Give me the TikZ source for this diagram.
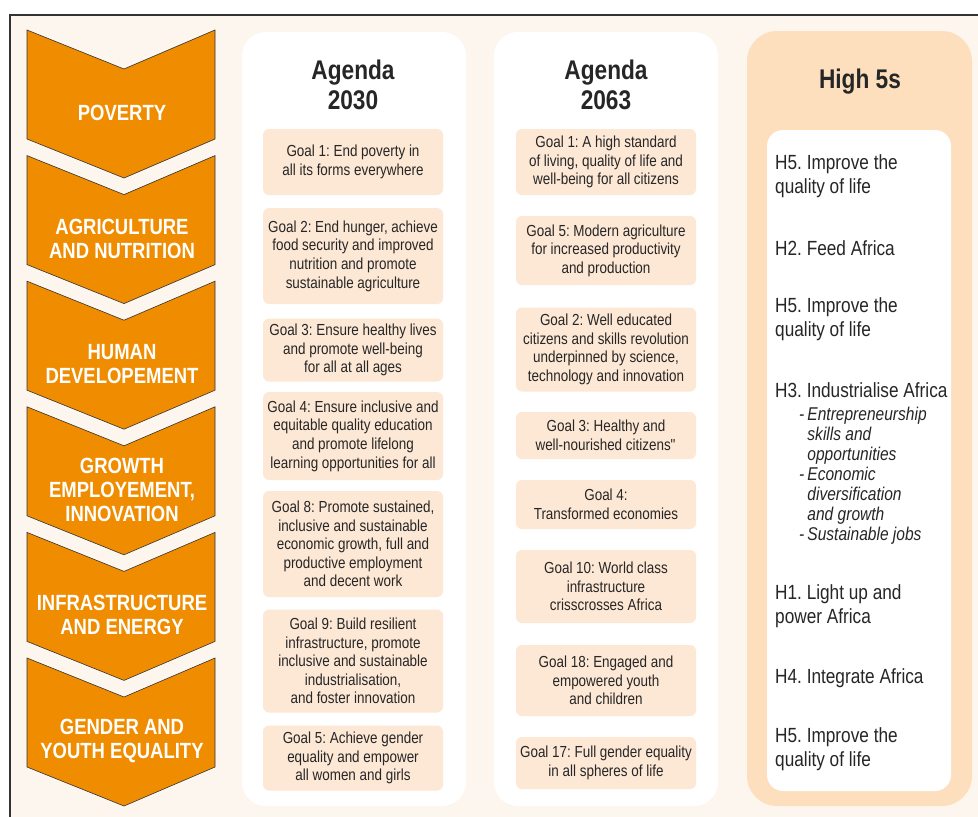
\documentclass[tikz,border=0pt]{standalone}
\usepackage{fontspec}
\setmainfont{Liberation Sans}[FakeStretch=0.84]
\frenchspacing
\usetikzlibrary{positioning}
\definecolor{bgcream}{HTML}{FDF6EF}
\definecolor{chevorange}{HTML}{F08C00}
\definecolor{goalpeach}{HTML}{FDE8D5}
\definecolor{highpeach}{HTML}{FDDFBD}
\definecolor{inkgray}{HTML}{262626}

\begin{document}
\begin{tikzpicture}[x=1pt,y=-1pt,
      chev/.style={fill=chevorange,draw=black!80,line width=0.6pt},
      chevlabel/.style={text=white,font=\fontsize{22}{24}\selectfont\bfseries,align=center},
      panel/.style={fill=white,rounded corners=24pt,minimum width=224pt,minimum height=774pt},
      goal/.style={fill=goalpeach,rounded corners=6pt,minimum width=180pt,inner sep=0pt,align=center,text=inkgray,font=\fontsize{16}{18.6}\selectfont},
      head/.style={text=inkgray,align=center,font=\fontsize{27}{30}\selectfont\bfseries},
      hitem/.style={anchor=west,inner sep=0pt,align=left,text=inkgray,font=\fontsize{20.5}{24.5}\selectfont}]
    \useasboundingbox (0,0) rectangle (978,817);
    \fill[bgcream] (10,15) rectangle (978,817);
    \draw[line width=2pt,draw=black!80] (10,817) -- (10,15) -- (978,15);

    \foreach \t/\lab [count=\i] in {30/POVERTY, 155.6/{AGRICULTURE\\AND NUTRITION},
        281.2/{HUMAN\\DEVELOPEMENT}, 406.8/{GROWTH\\EMPLOYEMENT,\\INNOVATION},
        532.4/{INFRASTRUCTURE\\AND ENERGY}, 658/{GENDER AND\\YOUTH EQUALITY}} {
      \draw[chev] (27,\t) -- ++(97,39) -- ++(91,-39) -- ++(0,109) -- ++(-91,39) -- ++(-97,-39) -- cycle;
      \node[chevlabel] (chev\i) at (122,\t+83) {\lab};
    }

    \node[panel] (col2030) at (354,419) {};
    \node[panel] (col2063) at (606,419) {};
    \node[panel,fill=highpeach,rounded corners=30pt,minimum width=225pt,minimum height=775pt] (colhigh) at (859.5,418.5) {};
    \node[fill=white,rounded corners=16pt,minimum width=184pt,minimum height=661pt] (highlist) at (859,460.5) {};

    \node[head] (ag2030) at (353,85) {Agenda\\2030};
    \node[head] (ag2063) at (606,85) {Agenda\\2063};
    \node[head] (high5) at (860,82) {High 5s};

    \node[goal,minimum height=66pt] (sdg1) at (353,162) {Goal 1: End poverty in\\all its forms everywhere};
    \node[goal,minimum height=96pt] (sdg2) at (353,256) {Goal 2: End hunger, achieve\\food security and improved\\nutrition and promote\\sustainable agriculture};
    \node[goal,minimum height=63pt] (sdg3) at (353,350) {Goal 3: Ensure healthy lives\\and promote well-being\\for all at all ages};
    \node[goal,minimum height=88pt] (sdg4) at (353,436) {Goal 4: Ensure inclusive and\\equitable quality education\\and promote lifelong\\learning opportunities for all};
    \node[goal,minimum height=106pt] (sdg8) at (353,544) {Goal 8: Promote sustained,\\inclusive and sustainable\\economic growth, full and\\productive employment\\and decent work};
    \node[goal,minimum height=103pt] (sdg9) at (353,661) {Goal 9: Build resilient\\infrastructure, promote\\inclusive and sustainable\\industrialisation,\\and foster innovation};
    \node[goal,minimum height=65pt] (sdg5) at (353,758) {Goal 5: Achieve gender\\equality and empower\\all women and girls};

    \node[goal,minimum height=66pt] (au1) at (606,162) {Goal 1: A high standard\\of living, quality of life and\\well-being for all citizens};
    \node[goal,minimum height=69pt] (au5) at (606,250.5) {Goal 5: Modern agriculture\\for increased productivity\\and production};
    \node[goal,minimum height=84pt] (au2) at (606,349.5) {Goal 2: Well educated\\citizens and skills revolution\\underpinned by science,\\technology and innovation};
    \node[goal,minimum height=47pt] (au3) at (606,435.5) {Goal 3: Healthy and\\well-nourished citizens\textquotedbl};
    \node[goal,minimum height=49pt] (au4) at (606,504.5) {Goal 4:\\Transformed economies};
    \node[goal,minimum height=73pt] (au10) at (606,586.5) {Goal 10: World class\\infrastructure\\crisscrosses Africa};
    \node[goal,minimum height=71pt] (au18) at (606,680.5) {Goal 18: Engaged and\\empowered youth\\and children};
    \node[goal,minimum height=52pt] (au17) at (606,763) {Goal 17: Full gender equality\\in all spheres of life};

    \node[hitem] (hq1) at (775,176) {H5. Improve the\\quality of life};
    \node[hitem] (hfeed) at (775,248) {H2. Feed Africa};
    \node[hitem] (hq2) at (775,319) {H5. Improve the\\quality of life};
    \node[hitem] (hind) at (775,390) {H3. Industrialise Africa};
    \node[hitem,font=\fontsize{18.5}{20}\selectfont\itshape] (hindsub) at (799,476)
      {\begin{tabular}{@{}l@{\,}l@{}}- & Entrepreneurship\\ & skills and\\ & opportunities\\- & Economic\\ & diversification\\ & and growth\\- & Sustainable jobs\end{tabular}};
    \node[hitem] (hlight) at (775,606) {H1. Light up and\\power Africa};
    \node[hitem] (hint) at (775,678) {H4. Integrate Africa};
    \node[hitem] (hq3) at (775,749) {H5. Improve the\\quality of life};
  \end{tikzpicture}
\end{document}
